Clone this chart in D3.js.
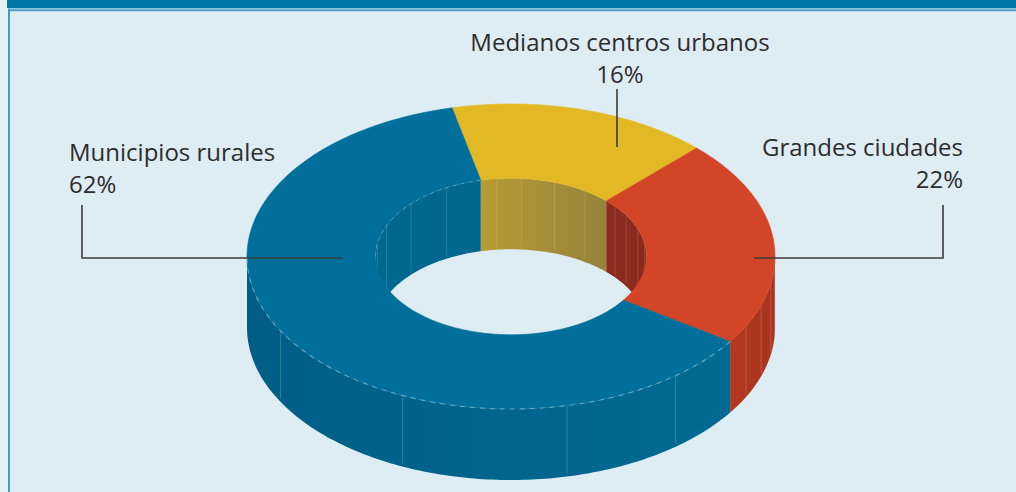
<!DOCTYPE html>
<html><head><meta charset="utf-8">
<script src="https://cdn.jsdelivr.net/npm/d3@7"></script>
<style>html,body{margin:0;padding:0;background:#deedf5;}svg{display:block;}</style>
</head><body>
<svg id="chart" width="1016" height="492"></svg>
<script>
// ---- data ----
const categories = ["Medianos centros urbanos", "Grandes ciudades", "Municipios rurales"];
const values = [16, 22, 62];
const pctLabels = ["16%", "22%", "62%"];
const topColors = ["#e2b924", "#d34527", "#006f9b"];
const sideColors = [["#b89b34", "#97843a"], ["#b5391f", "#a8331e"], ["#005e86", "#006a93"]];
const innerColors = [["#b89b34", "#95833a"], ["#8d2b1e", "#8a2a1d"], ["#006890", "#006890"]];

// ---- layout ----
const W = 1016, H = 492;
const cx = 511, cy = 256.5, rx = 264, ry = 152.5, depth = 71, innerRatio = 0.513;
const startAngle = -12.9 * Math.PI / 180;

const svg = d3.select("#chart");
const defs = svg.append("defs");

// frame
svg.append("rect").attr("x", 0).attr("y", 0).attr("width", W).attr("height", H).attr("fill", "#e3f0f6");
svg.append("rect").attr("x", 10).attr("y", 11).attr("width", W - 10).attr("height", H - 11).attr("fill", "#deecf4");
svg.append("rect").attr("x", 7).attr("y", 0).attr("width", W - 7).attr("height", 8).attr("fill", "#0077a6");
svg.append("line").attr("x1", 8).attr("x2", W).attr("y1", 8.5).attr("y2", 8.5).attr("stroke", "#8cc3dc").attr("stroke-width", 1);
svg.append("line").attr("x1", 8).attr("x2", W).attr("y1", 10.3).attr("y2", 10.3).attr("stroke", "#4c9fc4").attr("stroke-width", 2);
svg.append("line").attr("x1", 9).attr("x2", 9).attr("y1", 9).attr("y2", H).attr("stroke", "#3d9cc6").attr("stroke-width", 2);

const pie = d3.pie().sort(null).value(d => d).startAngle(startAngle).endAngle(startAngle + 2 * Math.PI);
const arcs = pie(values);

const proj = (a, s, dy) => [cx + rx * s * Math.sin(a), cy - ry * s * Math.cos(a) + dy];
const samples = (a0, a1) => { const n = Math.max(2, Math.ceil(Math.abs(a1 - a0) * 60)); return d3.range(n + 1).map(i => a0 + (a1 - a0) * i / n); };
const line = d3.line();

function intersect(a0, a1, ranges) {
  const out = [];
  ranges.forEach(([lo, hi]) => { const s = Math.max(a0, lo), e = Math.min(a1, hi); if (e > s) out.push([s, e]); });
  return out;
}
function wallPath(s0, s1, scale) {
  const top = samples(s0, s1).map(a => proj(a, scale, 0));
  const bot = samples(s0, s1).reverse().map(a => proj(a, scale, depth));
  return line(top.concat(bot)) + "Z";
}
function grad(id, c0, c1, x0, x1) {
  const g = defs.append("linearGradient").attr("id", id).attr("gradientUnits", "userSpaceOnUse")
    .attr("x1", x0).attr("x2", x1).attr("y1", 0).attr("y2", 0);
  g.append("stop").attr("offset", 0).attr("stop-color", c0);
  g.append("stop").attr("offset", 1).attr("stop-color", c1);
  return `url(#${id})`;
}

const PI = Math.PI;
const backRanges = [[-PI / 2, PI / 2], [3 * PI / 2, 5 * PI / 2]];
const frontRanges = [[PI / 2, 3 * PI / 2]];

// inner back walls
const gInner = svg.append("g");
arcs.forEach((d, i) => {
  intersect(d.startAngle, d.endAngle, backRanges).forEach(([s, e], k) => {
    const xs = [proj(s, innerRatio, 0)[0], proj(e, innerRatio, 0)[0]];
    gInner.append("path").attr("d", wallPath(s, e, innerRatio))
      .attr("fill", grad(`in${i}${k}`, innerColors[i][0], innerColors[i][1], d3.min(xs), d3.max(xs)));
  });
});

// outer front walls
const gSide = svg.append("g");
arcs.forEach((d, i) => {
  intersect(d.startAngle, d.endAngle, frontRanges).forEach(([s, e], k) => {
    const xs = [proj(s, 1, 0)[0], proj(e, 1, 0)[0]];
    gSide.append("path").attr("d", wallPath(s, e, 1))
      .attr("fill", grad(`out${i}${k}`, i === 2 ? sideColors[i][0] : sideColors[i][0], sideColors[i][1], d3.min(xs), d3.max(xs)));
  });
});

// faint vertical seams on the walls
const seamFrac = [0.12, 0.3, 0.55, 0.8];
arcs.forEach((d, i) => {
  intersect(d.startAngle, d.endAngle, frontRanges).forEach(([s, e]) => {
    seamFrac.forEach(f => {
      const a = s + (e - s) * f, p0 = proj(a, 1, 0), p1 = proj(a, 1, depth);
      gSide.append("line").attr("x1", p0[0]).attr("y1", p0[1]).attr("x2", p1[0]).attr("y2", p1[1] - 3)
        .attr("stroke", "rgba(255,255,255,0.18)").attr("stroke-width", 1);
    });
  });
  intersect(d.startAngle, d.endAngle, backRanges).forEach(([s, e]) => {
    seamFrac.forEach(f => {
      const a = s + (e - s) * f, p0 = proj(a, innerRatio, 0), p1 = proj(a, innerRatio, depth);
      gInner.append("line").attr("x1", p0[0]).attr("y1", p0[1]).attr("x2", p1[0]).attr("y2", p1[1] - 3)
        .attr("stroke", "rgba(255,255,255,0.15)").attr("stroke-width", 1);
    });
  });
});

// top faces
const gTop = svg.append("g");
arcs.forEach((d, i) => {
  const outer = samples(d.startAngle, d.endAngle).map(a => proj(a, 1, 0));
  const inner = samples(d.startAngle, d.endAngle).reverse().map(a => proj(a, innerRatio, 0));
  gTop.append("path").attr("d", line(outer.concat(inner)) + "Z").attr("fill", topColors[i])
    .attr("stroke", topColors[i]).attr("stroke-width", 0.6);
});
// dashed highlight along the blue slice edges
const blue = arcs[2];
intersect(blue.startAngle, blue.endAngle, frontRanges).forEach(([s, e]) => {
  gTop.append("path").attr("d", line(samples(s, e).map(a => proj(a, 1, 0))))
    .attr("fill", "none").attr("stroke", "rgba(170,205,222,0.55)").attr("stroke-width", 1.2).attr("stroke-dasharray", "5,5");
});
intersect(blue.startAngle, blue.endAngle, backRanges).forEach(([s, e]) => {
  gTop.append("path").attr("d", line(samples(s, e).map(a => proj(a, innerRatio, 0))))
    .attr("fill", "none").attr("stroke", "rgba(170,205,222,0.45)").attr("stroke-width", 1).attr("stroke-dasharray", "4,4");
});

// labels and leader lines
const labelLayout = [
  { anchor: "middle", x: 620, y: 51, leader: [[617, 89], [617, 147]] },
  { anchor: "end", x: 963, y: 156, leader: [[943, 205], [943, 258], [754, 258]] },
  { anchor: "start", x: 69, y: 161, leader: [[82, 205], [82, 258], [343, 258]] }
];
const gLab = svg.append("g").attr("font-family", "'Open Sans', sans-serif").attr("font-size", 24).attr("fill", "#2d2d2d");
labelLayout.forEach((L, i) => {
  gLab.append("path").attr("d", line(L.leader)).attr("fill", "none").attr("stroke", "#3b3b3b").attr("stroke-width", 1.6);
  gLab.append("text").attr("x", L.x).attr("y", L.y).attr("text-anchor", L.anchor).text(categories[i]);
  gLab.append("text").attr("x", L.x).attr("y", L.y + 32).attr("text-anchor", L.anchor).text(pctLabels[i]);
});
</script>
</body></html>
